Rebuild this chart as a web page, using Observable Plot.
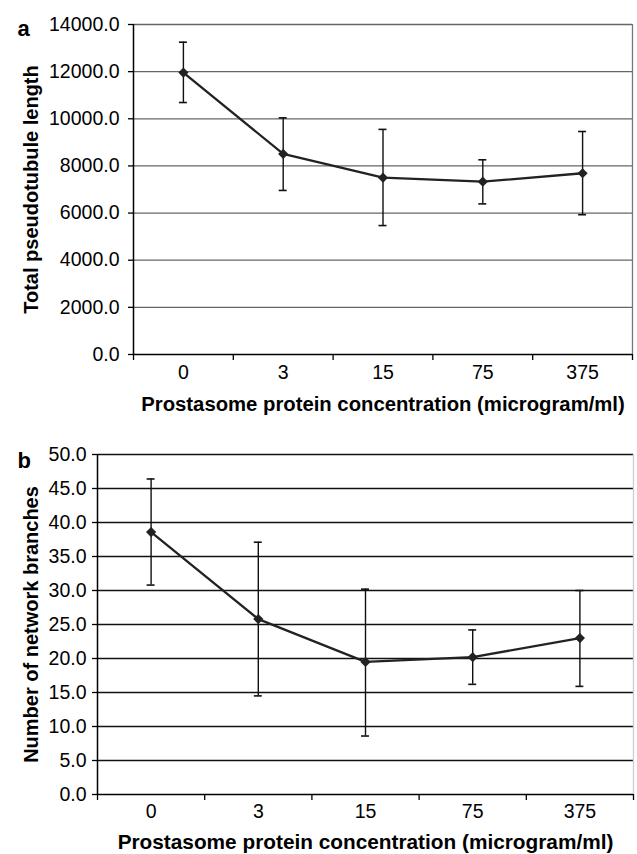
<!DOCTYPE html>
<html>
<head>
<meta charset="utf-8">
<script src="https://cdn.jsdelivr.net/npm/d3@7"></script>
<script src="https://cdn.jsdelivr.net/npm/@observablehq/plot@0.6"></script>
<style>
  html, body { margin: 0; padding: 0; background: #fff; }
  #chart svg { display: block; }
</style>
</head>
<body>
<div id="chart"></div>
<script>
const categories = ["0", "3", "15", "75", "375"];

const lengthMean = [11960, 8510, 7500, 7330, 7690];
const lengthLow  = [10690, 6960, 5470, 6390, 5930];
const lengthHigh = [13250, 10040, 9550, 8260, 9460];
const lengthTicks = [0, 2000, 4000, 6000, 8000, 10000, 12000, 14000];

const branchMean = [38.6, 25.8, 19.5, 20.2, 23.0];
const branchLow  = [30.8, 14.5, 8.6, 16.2, 15.9];
const branchHigh = [46.4, 37.1, 30.2, 24.2, 30.0];
const branchTicks = [0, 5, 10, 15, 20, 25, 30, 35, 40, 45, 50];

const xTitle = "Prostasome protein concentration (microgram/ml)";
const FONT = "'Liberation Sans', Arial, Helvetica, sans-serif";

function panel({letter, mean, low, high, ticks, yTitle, height, mt, mb, ml, mr,
                gridColor, borderColor, yPad, xPad, titleDy, capHalf, yTitleDx, titleSize, letterDy}) {
  const rows = categories.map((c, i) => ({i, c, mean: mean[i], lo: low[i], hi: high[i]}));
  const idx = categories.map((c, i) => i);
  const bounds = [-0.5, ...idx.map(i => i + 0.5)];
  const top = ticks[ticks.length - 1];
  return Plot.plot({
    width: 637,
    height,
    marginTop: mt, marginBottom: mb, marginLeft: ml, marginRight: mr,
    style: {fontFamily: FONT, fontSize: "19.5px", background: "#fff", overflow: "visible", color: "#000"},
    x: {type: "linear", domain: [-0.5, categories.length - 0.5]},
    y: {type: "linear", domain: [0, top]},
    marks: [
      Plot.ruleY(ticks.filter(t => t > 0), {stroke: gridColor, strokeWidth: 1.3}),
      Plot.ruleX([categories.length - 0.5], {stroke: borderColor, strokeWidth: 1.3}),
      Plot.axisY({ticks, tickSize: 5, tickPadding: yPad, tickFormat: d => d.toFixed(1),
                  fontSize: 19.5, label: null, stroke: "#000", strokeWidth: 1.3}),
      Plot.axisX({ticks: idx, tickSize: 0, tickPadding: xPad, tickFormat: i => categories[i],
                  fontSize: 19.5, label: null}),
      Plot.axisX({ticks: bounds, tickSize: 6, tickFormat: () => "", label: null,
                  stroke: "#000", strokeWidth: 1.3}),
      Plot.ruleY([0], {stroke: "#000", strokeWidth: 1.5}),
      Plot.ruleX([-0.5], {stroke: "#000", strokeWidth: 1.5}),
      Plot.ruleX(rows, {x: "i", y1: "lo", y2: "hi", stroke: "#111", strokeWidth: 1.4}),
      Plot.ruleY(rows, {y: "hi", x1: d => d.i - capHalf, x2: d => d.i + capHalf, stroke: "#111", strokeWidth: 1.6}),
      Plot.ruleY(rows, {y: "lo", x1: d => d.i - capHalf, x2: d => d.i + capHalf, stroke: "#111", strokeWidth: 1.6}),
      Plot.line(rows, {x: "i", y: "mean", stroke: "#222", strokeWidth: 2.3}),
      Plot.dot(rows, {x: "i", y: "mean", symbol: "diamond2", r: 4.6, fill: "#222", stroke: "none"}),
      Plot.text([yTitle], {frameAnchor: "left", dx: yTitleDx, rotate: -90, text: d => d,
                           fontSize: 20, fontWeight: "bold", textAnchor: "middle"}),
      Plot.text([xTitle], {frameAnchor: "bottom", dy: titleDy, text: d => d,
                           fontSize: titleSize, fontWeight: "bold", textAnchor: "middle"}),
      Plot.text([letter], {frameAnchor: "top-left", dx: 17 - ml, dy: letterDy,
                           text: d => d, fontSize: 22, fontWeight: "bold", textAnchor: "start"})
    ]
  });
}

const chart = document.getElementById("chart");
chart.appendChild(panel({
  letter: "a", mean: lengthMean, low: lengthLow, high: lengthHigh, ticks: lengthTicks,
  yTitle: "Total pseudotubule length", height: 425, mt: 24, mb: 71, ml: 133, mr: 5,
  gridColor: "#666", borderColor: "#777", yPad: 9, xPad: 11, titleDy: 56, capHalf: 0.04,
  yTitleDx: -101.5, titleSize: 20.3, letterDy: -4
}));
chart.appendChild(panel({
  letter: "b", mean: branchMean, low: branchLow, high: branchHigh, ticks: branchTicks,
  yTitle: "Number of network branches", height: 429, mt: 29, mb: 60, ml: 97, mr: 4,
  gridColor: "#111", borderColor: "#ccc", yPad: 6, xPad: 10, titleDy: 54, capHalf: 0.037,
  yTitleDx: -65.5, titleSize: 20.8, letterDy: -2
}));
</script>
</body>
</html>
